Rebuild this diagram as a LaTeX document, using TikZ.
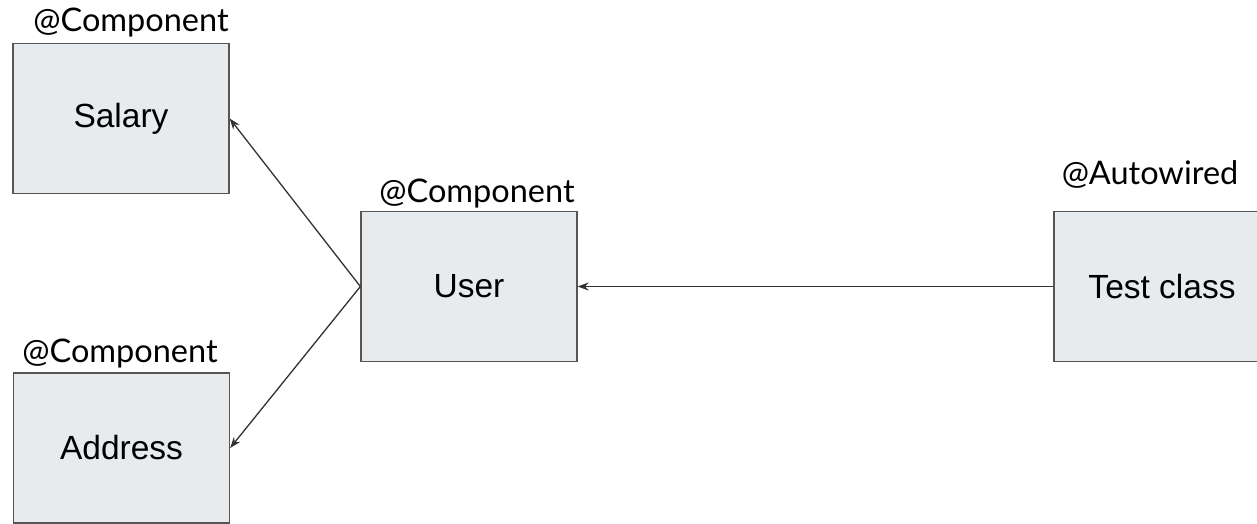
\documentclass[tikz,border=0pt]{standalone}
\usepackage{fontspec}
\setmainfont{Liberation Sans}
\newfontfamily\tagfont{Lato}
\definecolor{boxfill}{RGB}{232, 235, 238}
\definecolor{boxline}{RGB}{85, 85, 85}
\definecolor{wireline}{RGB}{50, 50, 50}
\usetikzlibrary{arrows.meta, positioning}

\begin{document}
\begin{tikzpicture}[x = 1pt, y = -1pt,
	bean/.style = {draw = boxline, fill = boxfill, line width = 1.3pt, minimum width = 216pt, minimum height = 150pt, inner sep = 0pt, font = \fontsize{33.5}{40}\selectfont},
	tag/.style = {anchor = base, inner sep = 0pt, font = \tagfont\fontsize{32.5}{38}\selectfont},
	wire/.style = {-{Stealth[length = 11pt, width = 8pt]}, line width = 1.3pt, wireline}]
	\useasboundingbox (0,0) rectangle (1257,524);
	\clip (0,0) rectangle (1257,524);

	\node[bean] (salary) at (121, 118.5) {Salary};
	\node[bean] (address) at (121.5, 448) {Address};
	\node[bean] (user) at (469, 286.5) {User};
	\node[bean] (test) at (1162, 286.5) {Test class};

	\node[tag] (salarytag) at ([xshift = 10pt, yshift = 11pt] salary.north) {@Component};
	\node[tag] (addresstag) at ([xshift = -1.5pt, yshift = 10pt] address.north) {@Component};
	\node[tag] (usertag) at ([xshift = 8pt, yshift = 8pt] user.north) {@Component};
	\node[tag] (testtag) at ([xshift = -12pt, yshift = 26pt] test.north) {@Autowired};

	\draw[wire] (user.west) -- (salary.east);
	\draw[wire] (user.west) -- (address.east);
	\draw[wire] (test.west) -- (user.east);
\end{tikzpicture}
\end{document}
